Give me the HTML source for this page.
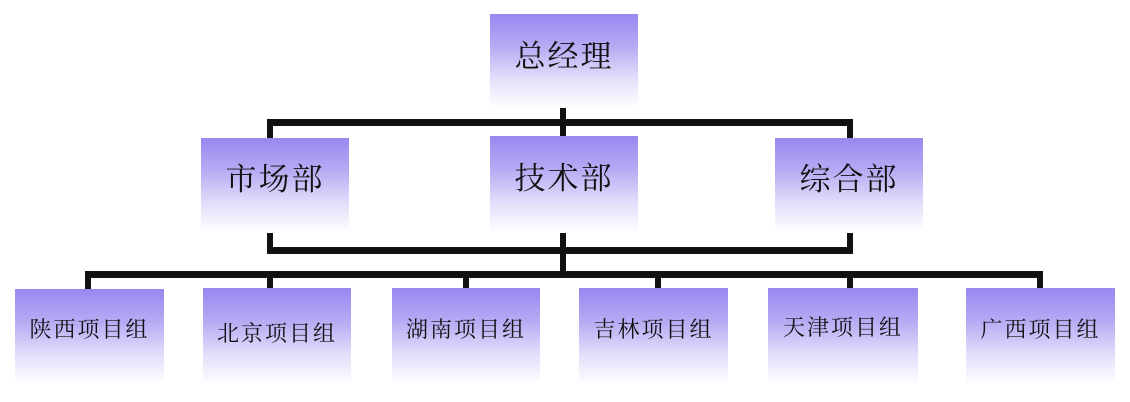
<!DOCTYPE html>
<html><head><meta charset="utf-8"><style>
body{margin:0;width:1130px;height:402px;background:#fff;position:relative;overflow:hidden;font-family:"Liberation Serif","Noto Serif CJK SC",serif;}
.b{position:absolute;background:linear-gradient(to bottom,#9788f0 0%,#b6acf4 35%,#e4e0fb 70%,#ffffff 100%);color:#111;text-align:center;}
.l{position:absolute;background:#111;}
.t1{font-size:31px;letter-spacing:2px;}
.t3{font-size:22px;letter-spacing:2px;}
</style></head><body>
<div class="l" style="left:560px;top:105px;width:6px;height:33px"></div>
<div class="l" style="left:267px;top:119px;width:586px;height:7px"></div>
<div class="l" style="left:267px;top:119px;width:6px;height:20px"></div>
<div class="l" style="left:847px;top:119px;width:6px;height:20px"></div>
<div class="l" style="left:267px;top:233px;width:6px;height:21px"></div>
<div class="l" style="left:560px;top:233px;width:6px;height:45px"></div>
<div class="l" style="left:847px;top:233px;width:6px;height:21px"></div>
<div class="l" style="left:267px;top:247px;width:586px;height:7px"></div>
<div class="l" style="left:85px;top:271px;width:958px;height:7px"></div>
<div class="l" style="left:85px;top:271px;width:6px;height:19px"></div>
<div class="l" style="left:267px;top:271px;width:6px;height:19px"></div>
<div class="l" style="left:463px;top:271px;width:6px;height:19px"></div>
<div class="l" style="left:655px;top:271px;width:6px;height:19px"></div>
<div class="l" style="left:847px;top:271px;width:6px;height:19px"></div>
<div class="l" style="left:1037px;top:271px;width:6px;height:19px"></div>

<div class="b t1" style="left:490px;top:14px;width:148px;height:94px;line-height:86px">总经理</div>
<div class="b t1" style="left:201px;top:138px;width:148px;height:95px;line-height:84px">市场部</div>
<div class="b t1" style="left:490px;top:136px;width:148px;height:97px;line-height:86px">技术部</div>
<div class="b t1" style="left:775px;top:138px;width:148px;height:95px;line-height:84px">综合部</div>

<div class="b t3" style="left:15px;top:289px;width:149px;height:96px;line-height:82px">陕西项目组</div>
<div class="b t3" style="left:203px;top:288px;width:148px;height:97px;line-height:92px">北京项目组</div>
<div class="b t3" style="left:392px;top:288px;width:148px;height:97px;line-height:84px">湖南项目组</div>
<div class="b t3" style="left:579px;top:288px;width:149px;height:97px;line-height:84px">吉林项目组</div>
<div class="b t3" style="left:768px;top:288px;width:150px;height:97px;line-height:80px">天津项目组</div>
<div class="b t3" style="left:966px;top:288px;width:149px;height:97px;line-height:84px">广西项目组</div>
</body></html>
